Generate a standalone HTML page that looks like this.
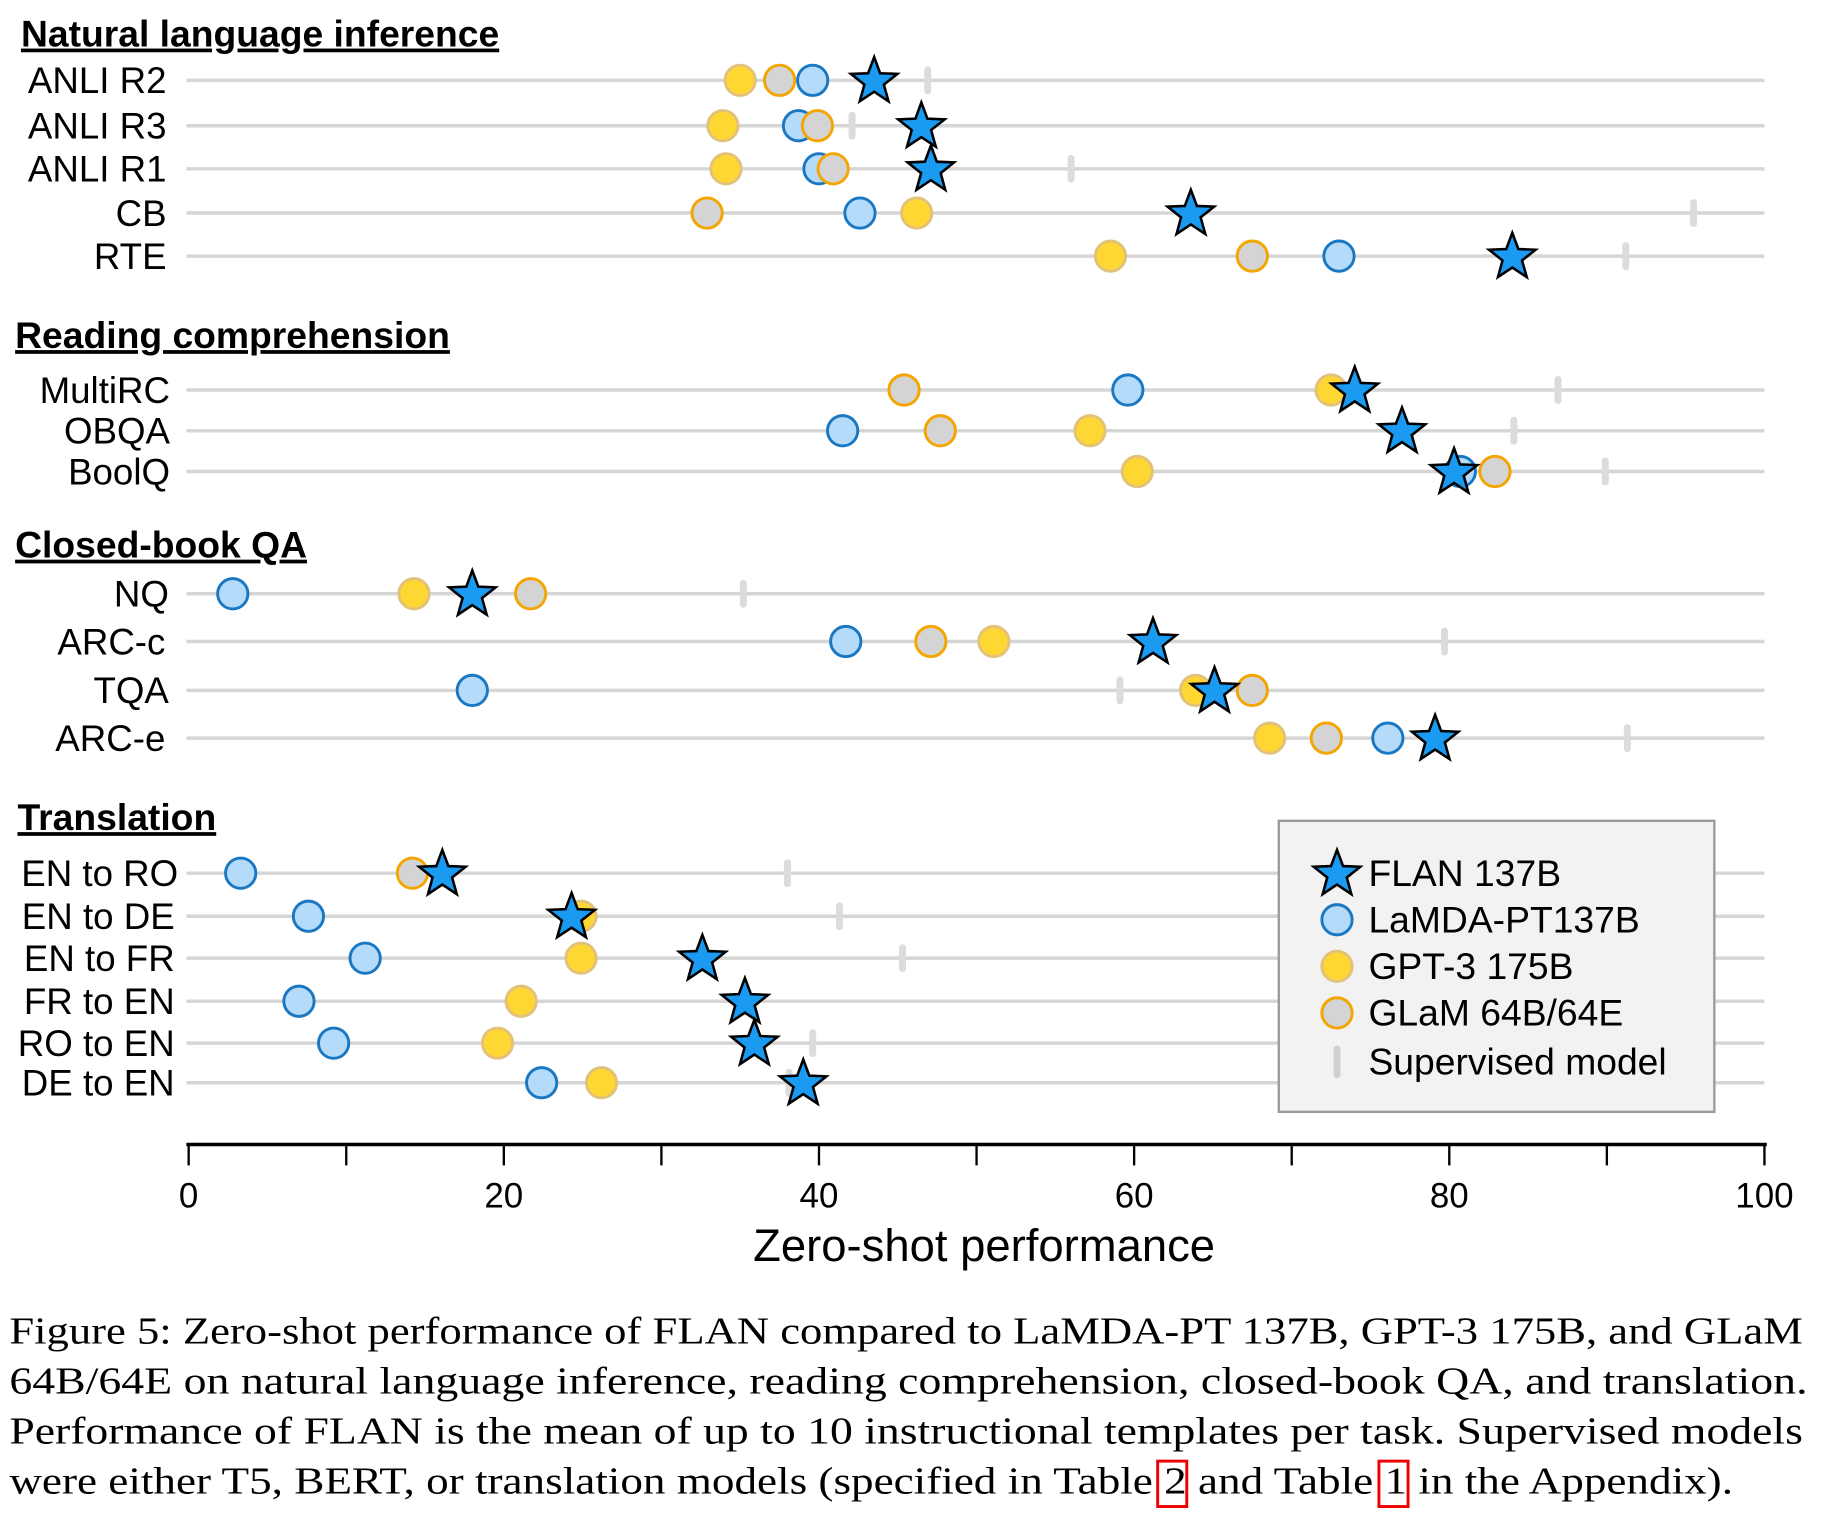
<!DOCTYPE html>
<html><head><meta charset="utf-8">
<style>html,body{margin:0;padding:0;background:#fff;}svg{display:block;}</style>
</head><body>
<svg id="chart" xmlns="http://www.w3.org/2000/svg" width="1825" height="1524" viewBox="0 0 1567 1309" preserveAspectRatio="none" font-family="'Liberation Sans', sans-serif">
<g id="grid"></g>
<g id="labels"></g>
<g id="marks"></g>
<g id="axis"></g>
<g>
  <rect x="1098" y="705" width="374" height="250" fill="#f2f2f2" stroke="#999" stroke-width="2"/>
  <g id="legend"></g>
</g>
<g font-family="'Liberation Serif', serif" font-size="33" fill="#000">
  <text x="8" y="1154" textLength="1540" lengthAdjust="spacingAndGlyphs">Figure 5: Zero-shot performance of FLAN compared to LaMDA-PT 137B, GPT-3 175B, and GLaM</text>
  <text x="8" y="1197" textLength="1544" lengthAdjust="spacingAndGlyphs">64B/64E on natural language inference, reading comprehension, closed-book QA, and translation.</text>
  <text x="8" y="1240" textLength="1540" lengthAdjust="spacingAndGlyphs">Performance of FLAN is the mean of up to 10 instructional templates per task. Supervised models</text>
  <text x="8" y="1283" textLength="1480" lengthAdjust="spacingAndGlyphs">were either T5, BERT, or translation models (specified in Table 2 and Table 1 in the Appendix).</text>
  <rect x="994" y="1255" width="25" height="39" fill="none" stroke="#e00" stroke-width="2.5"/>
  <rect x="1184" y="1255" width="25" height="39" fill="none" stroke="#e00" stroke-width="2.5"/>
</g>
</svg>
<script>
const tasks = ["ANLI R2","ANLI R3","ANLI R1","CB","RTE","MultiRC","OBQA","BoolQ","NQ","ARC-c","TQA","ARC-e","EN to RO","EN to DE","EN to FR","FR to EN","RO to EN","DE to EN"];
const flan = [43.5,46.5,47.1,63.6,84.0,74.0,77.0,80.3,18.0,61.2,65.1,79.1,16.1,24.3,32.6,35.3,35.9,39.0];
const lamda = [39.6,38.7,40.0,42.6,73.0,59.6,41.5,80.7,2.8,41.7,18.0,76.1,3.3,7.6,11.2,7.0,9.2,22.4];
const gpt3 = [35.0,33.9,34.1,46.2,58.5,72.5,57.2,60.2,14.3,51.1,63.9,68.6,null,24.9,24.9,21.1,19.6,26.2];
const glam = [37.5,39.9,40.9,32.9,67.5,45.4,47.7,82.9,21.7,47.1,67.5,72.2,14.2,null,null,null,null,null];
const supervised = [46.9,42.1,56.0,95.5,91.2,86.9,84.1,89.9,35.2,79.7,59.1,91.3,38.0,41.3,45.3,35.2,39.6,38.1];
const xTicks = [0,10,20,30,40,50,60,70,80,90,100];
const xTickLabels = ["0","","20","","40","","60","","80","","100"];
const sections = ["Natural language inference","Reading comprehension","Closed-book QA","Translation"];

const NS="http://www.w3.org/2000/svg";
const rowY=[69,108,145,183,220,335,370,405,510,551,593,634,750,787,823,860,896,930];
const sectY=[40,299,479,713], sectX=[18,13,13,15], labelRight=[143,143,143,143,143,146,146,146,145,142,145,142,153,150,150,150,150,150];
const x = v => 162 + v*13.53;
function el(tag,attrs,parent){const e=document.createElementNS(NS,tag);for(const k in attrs)e.setAttribute(k,attrs[k]);parent.appendChild(e);return e;}
function star(cx,cy,R){let p=[];for(let i=0;i<10;i++){const r=i%2?R*0.42:R;const a=-Math.PI/2+i*Math.PI/5;p.push((cx+r*Math.cos(a)).toFixed(1)+","+(cy+r*Math.sin(a)).toFixed(1));}return p.join(" ");}
const grid=document.getElementById('grid'),labels=document.getElementById('labels'),marks=document.getElementById('marks');
const sty={lamda:{f:"#b5dbfb",s:"#1a78c2"},gpt3:{f:"#ffd733",s:"#e2c27a"},glam:{f:"#d4d4d4",s:"#f5a500"}};
sections.forEach((s,i)=>{
  const t=el('text',{x:sectX[i],y:sectY[i],'font-size':32,'font-weight':'bold','text-decoration':'underline'},labels);
  t.textContent=s;
  
  
});
tasks.forEach((t,i)=>{
  const y=rowY[i];
  const g=el('line',{x1:160,x2:1515,y1:y,y2:y,stroke:"#d6d6d6",'stroke-width':3},grid);
  
  
  const lb=el('text',{x:labelRight[i],y:y+11,'font-size':31.5,'text-anchor':'end'},labels);
  lb.textContent=t;
  
  
  [["lamda",lamda],["gpt3",gpt3],["glam",glam]].forEach(([k,arr])=>{
    if(arr[i]==null)return;
    const c=el('circle',{cx:x(arr[i]),cy:y,r:13,fill:sty[k].f,stroke:sty[k].s,'stroke-width':2.5},marks);
    
    
  });
  const sp=el('rect',{x:x(supervised[i])-3,y:y-12,width:6,height:24,rx:3,fill:"#dcdcdc"},marks);
  
  
  const st=el('polygon',{points:star(x(flan[i]),y+1,21),fill:"#1a9af0",stroke:"#000",'stroke-width':2.2,'stroke-linejoin':'miter'},marks);
  
  
});
const axis=document.getElementById('axis');
el('line',{x1:160,x2:1517,y1:983,y2:983,stroke:"#000",'stroke-width':3},axis);
xTicks.forEach((v,i)=>{
  const tk=el('line',{x1:x(v),x2:x(v),y1:983,y2:1001,stroke:"#000",'stroke-width':2},axis);
  
  
  if(xTickLabels[i]){
    const tl=el('text',{x:x(v),y:1037,'font-size':30,'text-anchor':'middle'},axis);
    tl.textContent=xTickLabels[i];
    
    
  }
});
const at=el('text',{x:845,y:1083,'font-size':39,'text-anchor':'middle'},axis);
at.textContent="Zero-shot performance";


const lg=document.getElementById('legend');
const ly=[750,790,830,870,912], lt=["FLAN 137B","LaMDA-PT137B","GPT-3 175B","GLaM 64B/64E","Supervised model"];
el('polygon',{points:star(1148,ly[0]+1,21),fill:"#1a9af0",stroke:"#000",'stroke-width':2.2},lg);
el('circle',{cx:1148,cy:ly[1],r:13,fill:sty.lamda.f,stroke:sty.lamda.s,'stroke-width':2.5},lg);
el('circle',{cx:1148,cy:ly[2],r:13,fill:sty.gpt3.f,stroke:sty.gpt3.s,'stroke-width':2.5},lg);
el('circle',{cx:1148,cy:ly[3],r:13,fill:sty.glam.f,stroke:sty.glam.s,'stroke-width':2.5},lg);
el('rect',{x:1145,y:ly[4]-14,width:6,height:28,rx:3,fill:"#d0d0d0"},lg);
lt.forEach((t,i)=>{
  const e=el('text',{x:1175,y:ly[i]+11,'font-size':32},lg);
  e.textContent=t;
  
  
});
</script>
</body></html>
